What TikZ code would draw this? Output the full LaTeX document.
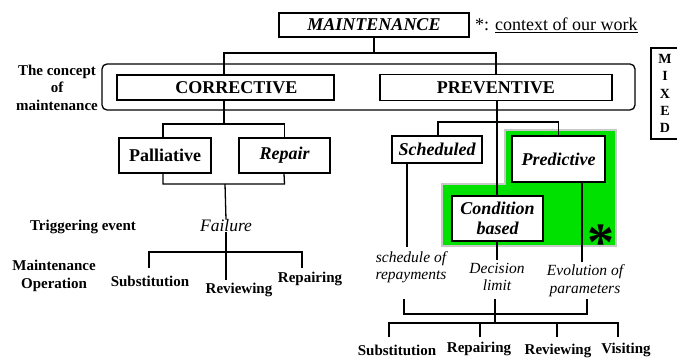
\documentclass[tikz,border=0pt]{standalone}
\usepackage{fontspec}
\setmainfont{Liberation Serif}
\begin{document}
\begin{tikzpicture}[x=1pt,y=-1pt,
  ln/.style={line width=1.3pt},
  box/.style={draw, line width=1.3pt, fill=white, inner sep=0pt, align=center,
    font=\bfseries\fontsize{18}{20}\selectfont},
  bibox/.style={box, font=\bfseries\itshape\fontsize{18}{20}\selectfont},
  lab/.style={inner sep=0pt, align=center, font=\bfseries\fontsize{15}{17.5}\selectfont},
  itl/.style={inner sep=0pt, align=center, font=\itshape\fontsize{15.5}{17.5}\selectfont}]
\useasboundingbox (0,0) rectangle (677,358);
\fill[white] (0,0) rectangle (677,358);

% green area
\filldraw[fill={rgb,255:red,0;green,225;blue,0}, draw={rgb,255:red,200;green,200;blue,200}, line width=2pt]
  (505,130) -- (616,130) -- (616,246) -- (442,246) -- (442,184) -- (505,184) -- cycle;

% top
\node[bibox, minimum width=190, minimum height=24] (maint) at (374,25) {MAINTENANCE};
\node[anchor=west, inner sep=0pt, font=\fontsize{18}{20}\selectfont] (ctx) at (475,25) {*: \underline{context of our work}};

\node[draw, line width=1.3pt, rounded corners=5pt, minimum width=533, minimum height=46, inner sep=0pt] (concept) at (368.5,87) {};
\node[lab] (conclab) at (57,87.5) {The concept\\of\\maintenance};

\node[box, minimum width=217, minimum height=25] (corr) at (225.5,87.5) {\hspace*{22pt}CORRECTIVE};
\node[box, minimum width=232, minimum height=26] (prev) at (496,87.5) {PREVENTIVE};

\node[draw, line width=1.3pt, minimum width=28, minimum height=91, inner sep=0pt, align=center,
  font=\bfseries\fontsize{14}{17.3}\selectfont] (mixed) at (665,93.5) {M\\I\\X\\E\\D};

\coordinate (h1) at (0,53);
\draw[ln] (maint.south) -- (maint.south |- h1);
\draw[ln] (corr.north -| 224,0) |- (prev.north |- h1) -- (prev.north);

% corrective branch
\node[box, minimum width=92, minimum height=35] (pall) at (165,155.5) {Palliative};
\node[bibox, minimum width=91, minimum height=35] (rep) at (284.5,155.5) {Repair};
\coordinate (h2) at (0,124);
\draw[ln] (corr.south -| 224,0) -- (224,124);
\draw[ln] (pall.north -| 163,0) |- (rep.north |- h2) -- (rep.north);

\node[lab, anchor=center] (trig) at (83,227) {Triggering event};
\node[inner sep=0pt, font=\itshape\fontsize{17.5}{20}\selectfont] (fail) at (226,226) {Failure};
\coordinate (h3) at (0,184);
\draw[ln] (pall.south -| 163,0) |- (rep.south |- h3) -- (rep.south -| 284,0);
\draw[ln] (225,184) -- (fail.north);

\node[lab] (mop) at (54,276) {Maintenance\\Operation};
\node[lab] (subL) at (150,281) {Substitution};
\node[lab] (revL) at (239,290) {Reviewing};
\node[lab] (repL) at (310,279) {Repairing};
\coordinate (l1) at (149,268);
\coordinate (l2) at (302,268);
\draw[ln] (fail.south) -- (226,280);
\draw[ln] (l1) |- (302,252) -- (l2);

% preventive branch
\node[bibox, minimum width=90, minimum height=27] (sched) at (437,149.5) {Scheduled};
\node[bibox, minimum width=93, minimum height=46] (pred) at (558.5,159) {Predictive};
\node[bibox, minimum width=91, minimum height=45] (cond) at (497.5,218.5) {Condition\\based};
\node[inner sep=0pt, anchor=base, text depth=0pt, text height=0.7em,
  font=\bfseries\fontsize{54}{54}\selectfont] (star) at (601,260) {*};

\coordinate (h4) at (0,122);
\draw[ln] (prev.south -| 497,0) -- (cond.north -| 497,0);
\draw[ln] (sched.north -| 438,0) |- (pred.north |- h4) -- (pred.north);

\node[itl] (schedlab) at (411,267) {schedule of\\repayments};
\node[itl] (declab) at (497,277) {Decision\\limit};
\node[itl] (evlab) at (585,280.5) {Evolution of\\parameters};
\draw[ln] (sched.south -| 407,0) -- (407,247);
\draw[ln] (cond.south -| 497,0) -- (497,260);
\draw[ln] (pred.south -| 582,0) -- (582,262);

\coordinate (b1) at (404,299);
\coordinate (b2) at (587,299);
\draw[ln] (b1) |- (587,314) -- (b2);
\draw[ln] (495,299) -- (495,323);

\node[lab] (subR) at (397,350) {Substitution};
\node[lab] (repR) at (479,349) {Repairing};
\node[lab] (revR) at (558,351) {Reviewing};
\node[lab] (visR) at (626,350) {Visiting};
\coordinate (t1) at (389,337);
\coordinate (t2) at (480,337);
\coordinate (t3) at (557,337);
\coordinate (t4) at (618,337);
\draw[ln] (t1) |- (618,323) -- (t4);
\draw[ln] (t2) -- (480,323);
\draw[ln] (t3) -- (557,323);
\end{tikzpicture}
\end{document}
